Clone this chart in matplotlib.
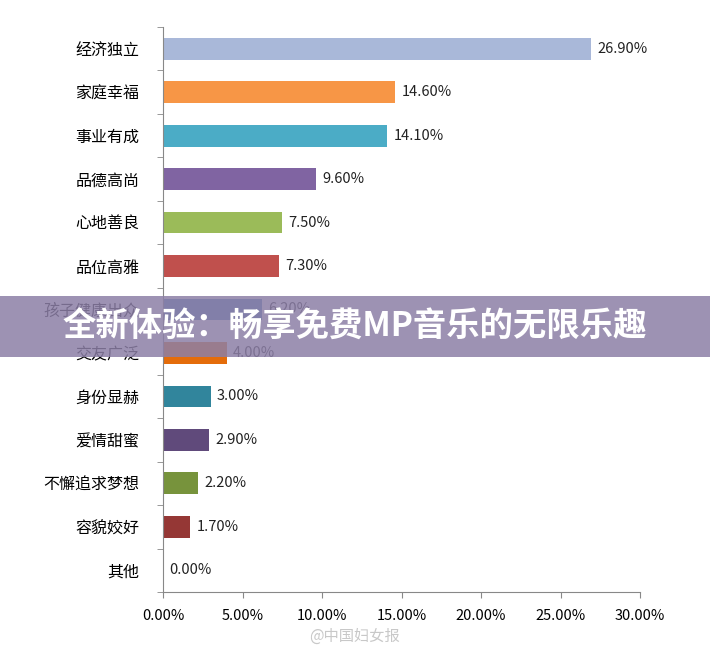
import matplotlib
matplotlib.use("Agg")
import matplotlib.pyplot as plt
from matplotlib.patches import Rectangle

plt.rcParams["font.family"] = ["Noto Sans CJK SC", "DejaVu Sans"]

categories = ["经济独立", "家庭幸福", "事业有成", "品德高尚", "心地善良", "品位高雅",
              "孩子健康出众", "交友广泛", "身份显赫", "爱情甜蜜", "不懈追求梦想", "容貌姣好", "其他"]
values = [26.9, 14.6, 14.1, 9.6, 7.5, 7.3, 6.2, 4.0, 3.0, 2.9, 2.2, 1.7, 0.0]
colors = ["#A9B8D9", "#F79646", "#4BACC6", "#8064A2", "#9BBB59", "#C0504D",
          "#4F81BD", "#E46C0A", "#31859C", "#604A7B", "#77933C", "#953735", "#4F81BD"]
xticks = [0, 5, 10, 15, 20, 25, 30]

fig = plt.figure(figsize=(7.10, 6.55), dpi=100)
ax = fig.add_axes([163/710, 1-592/655, (640-163)/710, (592-27)/655])
n = len(categories)
ys = list(range(n))[::-1]
ax.barh(ys, values, height=0.5, color=colors)
for y, v in zip(ys, values):
    ax.text(v + 0.4, y, f"{v:.2f}%", va="center", ha="left", fontsize=10.5, color="#222222")
ax.set_xlim(0, 30)
ax.set_ylim(-0.5, n - 0.5)
ax.set_yticks(ys)
ax.set_yticklabels(categories, fontsize=11.5)
ax.set_yticks([i - 0.5 for i in range(n + 1)], minor=True)
ax.tick_params(axis="y", which="major", length=0, pad=17)
ax.tick_params(axis="y", which="minor", length=4, color="#888888")
ax.set_xticks(xticks)
ax.set_xticklabels([f"{t:.2f}%" for t in xticks], fontsize=10.5)
ax.tick_params(axis="x", length=4, color="#888888", pad=8)
for s in ["top", "right"]:
    ax.spines[s].set_visible(False)
ax.spines["left"].set_color("#888888")
ax.spines["bottom"].set_color("#888888")

fig.patches.append(Rectangle((0, 1-357/655), 1, 61/655, transform=fig.transFigure,
                             facecolor="#8C7FA6", alpha=0.85, zorder=10))
fig.text(0.5, 1-327/655, "全新体验：畅享免费MP音乐的无限乐趣", ha="center", va="center",
         fontsize=24, fontweight="bold", color="white", zorder=11)
fig.text(0.50, 1-636/655, "@中国妇女报", ha="center", va="center", fontsize=11,
         color="#BBBBBB", alpha=0.8)
fig.savefig("out.png", dpi=100)
